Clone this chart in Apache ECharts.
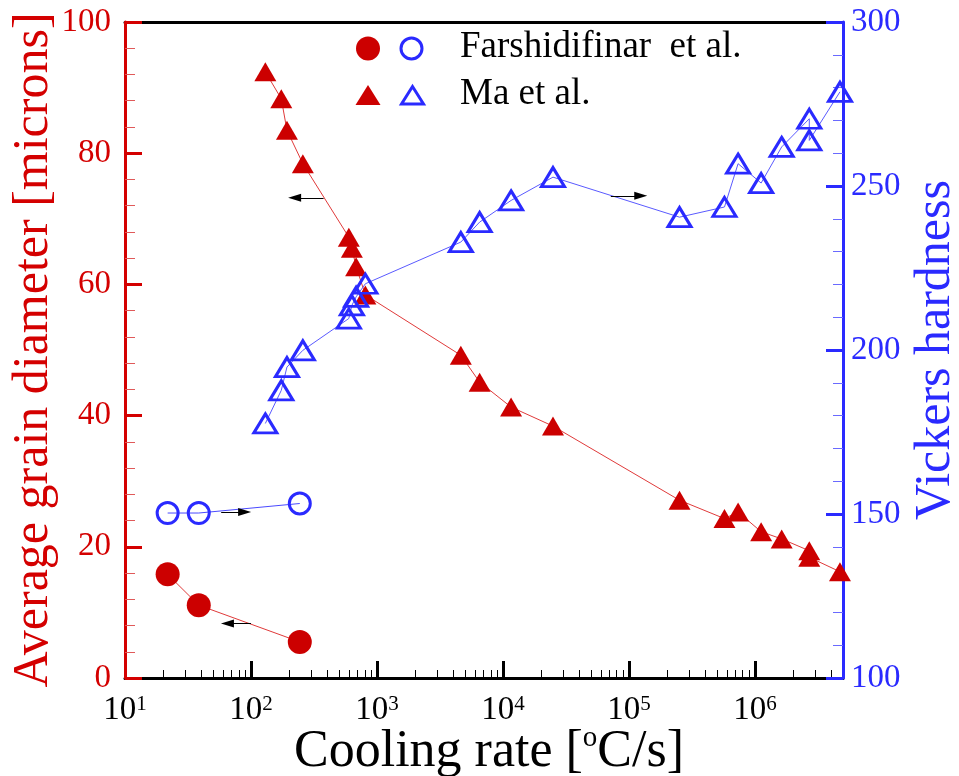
<!DOCTYPE html>
<html>
<head>
<meta charset="utf-8">
<script src="https://cdn.jsdelivr.net/npm/echarts@6/dist/echarts.min.js"></script>
<style>
  html, body { margin: 0; padding: 0; background: #fff; }
  #chart { width: 959px; height: 776px; }
</style>
</head>
<body>
<div id="chart"></div>
<script>
// Cooling rate [°C/s] for each measurement
const farshRate = [21.8, 38.5, 244];
const farshGrain = [15.8, 11.1, 5.5];          // average grain diameter [microns]
const farshHardness = [150.3, 150.3, 153.2];   // Vickers hardness

const maRate = [130, 174, 193, 258, 598, 632, 683, 809, 4630, 6530, 11600, 24950,
                252000, 573000, 735000, 1120000, 1630000, 2700000, 2700000, 4730000];
const maGrain = [92.4, 88.3, 83.5, 78.4, 67.2, 65.5, 62.7, 58.4, 49.2, 45.1, 41.3, 38.4,
                 27.1, 24.3, 25.3, 22.3, 21.2, 19.4, 18.4, 16.2];
const maHardness = [177.6, 187.7, 194.8, 199.9, 209.6, 213.6, 216.2, 220.2, 232.9, 239.0, 245.6, 252.7,
                    240.5, 243.6, 256.8, 250.9, 261.9, 270.5, 263.9, 278.7];

// Axis ranges and tick values
const rateMin = 10, rateMax = 5e6;
const decadeTicks = [10, 100, 1e3, 1e4, 1e5, 1e6];
const minorRateTicks = [];
decadeTicks.forEach(d => { for (let k = 2; k <= 9; k++) { if (d * k < rateMax) minorRateTicks.push(d * k); } });

// Arrows pointing each curve to its axis: [x1, y1, x2, y2]
const maGrainArrow = [377, 73.2, 222, 73.2];
const maHardArrow = [71800, 247, 124000, 247];
const farshGrainArrow = [100, 8.3, 65, 8.3];
const farshHardArrow = [58, 150.6, 89, 150.6];

const legendLabels = ['Farshidifinar  et al.', 'Ma et al.'];

const RED = '#cc0000';
const RED_AXIS = '#d40000';
const BLUE = '#2a2aff';
const FONT = 'Liberation Serif';
// slim filled arrow head, drawn pointing up (markLine rotates it along the line)
const ARROW_HEAD = 'path://M5,0 L10,18 L0,18 Z';

const zip = (xs, ys) => xs.map((x, i) => [x, ys[i]]);

function arrow(a) {
  return {
    silent: true,
    animation: false,
    symbol: ['none', ARROW_HEAD],
    symbolSize: [8, 13],
    label: { show: false },
    lineStyle: { color: '#000', width: 1, type: 'solid' },
    itemStyle: { color: '#000' },
    emphasis: { disabled: true },
    data: [[{ coord: [a[0], a[1]] }, { coord: [a[2], a[3]] }]]
  };
}

const chart = echarts.init(document.getElementById('chart'));

const option = {
  backgroundColor: '#fff',
  animation: false,
  textStyle: { fontFamily: FONT },
  grid: { left: 125, right: 116, top: 22, bottom: 98, containLabel: false, outerBoundsMode: 'none' },
  xAxis: [
    {
      type: 'log', logBase: 10, min: rateMin, max: rateMax, position: 'bottom',
      name: 'Cooling rate [{s|o}C/s]',
      nameLocation: 'middle', nameGap: 46, nameMoveOverlap: false,
      nameTextStyle: {
        fontFamily: FONT, fontSize: 52, lineHeight: 56, color: '#000', padding: [0, 0, 0, 10],
        rich: { s: { fontFamily: FONT, fontSize: 29, verticalAlign: 'top', color: '#000' } }
      },
      axisLine: { lineStyle: { color: '#000', width: 3 } },
      axisTick: { inside: true, length: 17, lineStyle: { color: '#000', width: 3 }, customValues: decadeTicks },
      axisLabel: {
        customValues: decadeTicks,
        margin: 16,
        formatter: v => '{b|10}{s|' + Math.round(Math.log10(v)) + '}',
        rich: {
          b: { fontFamily: FONT, fontSize: 33, color: '#000', verticalAlign: 'bottom' },
          s: { fontFamily: FONT, fontSize: 21, color: '#000', verticalAlign: 'top' }
        }
      },
      splitLine: { show: false }
    },
    {
      type: 'log', logBase: 10, min: rateMin, max: rateMax, position: 'bottom',
      axisLine: { show: false },
      axisTick: { inside: true, length: 8, lineStyle: { color: '#000', width: 1 }, customValues: minorRateTicks },
      axisLabel: { show: false },
      splitLine: { show: false }
    },
    {
      type: 'log', logBase: 10, min: rateMin, max: rateMax, position: 'top',
      axisLine: { lineStyle: { color: '#000', width: 3 } },
      axisTick: { show: false },
      axisLabel: { show: false },
      splitLine: { show: false }
    }
  ],
  yAxis: [
    {
      type: 'value', min: 0, max: 100, interval: 20, position: 'left', z: 2,
      name: 'Average grain diameter [microns]',
      nameLocation: 'middle', nameRotate: 90, nameGap: 66, nameMoveOverlap: false,
      nameTextStyle: { fontFamily: FONT, fontSize: 50, color: RED_AXIS },
      axisLine: { lineStyle: { color: RED_AXIS, width: 3 } },
      axisTick: { inside: true, length: 17, lineStyle: { color: RED_AXIS, width: 3 } },
      minorTick: { show: true, splitNumber: 5, length: 10, lineStyle: { color: '#e05a5a', width: 1 } },
      axisLabel: { fontFamily: FONT, fontSize: 33, color: RED_AXIS, margin: 14 },
      splitLine: { show: false }
    },
    {
      type: 'value', min: 100, max: 300, interval: 50, position: 'right', z: 2,
      name: 'Vickers hardness',
      nameLocation: 'middle', nameRotate: 90, nameGap: 68, nameMoveOverlap: false,
      nameTextStyle: { fontFamily: FONT, fontSize: 50, color: BLUE },
      axisLine: { lineStyle: { color: BLUE, width: 3 } },
      axisTick: { inside: true, length: 17, lineStyle: { color: BLUE, width: 3 } },
      minorTick: { show: true, splitNumber: 5, length: 10, lineStyle: { color: '#6a6aff', width: 1 } },
      axisLabel: { fontFamily: FONT, fontSize: 33, color: BLUE, margin: 8 },
      splitLine: { show: false }
    }
  ],
  series: [
    {
      name: 'Farshidifinar grain', type: 'line', xAxisIndex: 0, yAxisIndex: 0,
      data: zip(farshRate, farshGrain),
      symbol: 'circle', symbolSize: 24,
      itemStyle: { color: RED },
      lineStyle: { color: '#e03a3a', width: 1 },
      markLine: arrow(farshGrainArrow),
      z: 3
    },
    {
      name: 'Farshidifinar hardness', type: 'line', xAxisIndex: 0, yAxisIndex: 1,
      data: zip(farshRate, farshHardness),
      symbol: 'circle', symbolSize: 21,
      itemStyle: { color: 'rgba(0,0,0,0)', borderColor: BLUE, borderWidth: 3 },
      lineStyle: { color: '#4a4aff', width: 1 },
      markLine: arrow(farshHardArrow),
      z: 3
    },
    {
      name: 'Ma grain', type: 'line', xAxisIndex: 0, yAxisIndex: 0,
      data: zip(maRate, maGrain),
      symbol: 'triangle', symbolSize: [22, 19],
      itemStyle: { color: RED },
      lineStyle: { color: '#e03a3a', width: 1 },
      markLine: arrow(maGrainArrow),
      z: 3
    },
    {
      name: 'Ma hardness', type: 'line', xAxisIndex: 0, yAxisIndex: 1,
      data: zip(maRate, maHardness),
      symbol: 'triangle', symbolSize: [23, 19],
      itemStyle: { color: 'rgba(0,0,0,0)', borderColor: BLUE, borderWidth: 3 },
      lineStyle: { color: '#5a5aff', width: 1 },
      markLine: arrow(maHardArrow),
      z: 4
    }
  ],
  graphic: [
    { type: 'circle', shape: { cx: 368, cy: 48.5, r: 12 }, style: { fill: RED } },
    { type: 'circle', shape: { cx: 411.5, cy: 48.5, r: 10.5 }, style: { fill: 'none', stroke: BLUE, lineWidth: 3 } },
    { type: 'polygon', shape: { points: [[368, 85], [380.5, 105], [355.5, 105]] }, style: { fill: RED } },
    { type: 'polygon', shape: { points: [[412.5, 86.5], [423.5, 104], [401.5, 104]] }, style: { fill: 'none', stroke: BLUE, lineWidth: 3 } },
    { type: 'text', left: 460, top: 29, style: { text: legendLabels[0], fontFamily: FONT, fontSize: 37, fill: '#000' } },
    { type: 'text', left: 460, top: 76, style: { text: legendLabels[1], fontFamily: FONT, fontSize: 37, fill: '#000' } }
  ]
};

chart.setOption(option);
</script>
</body>
</html>
